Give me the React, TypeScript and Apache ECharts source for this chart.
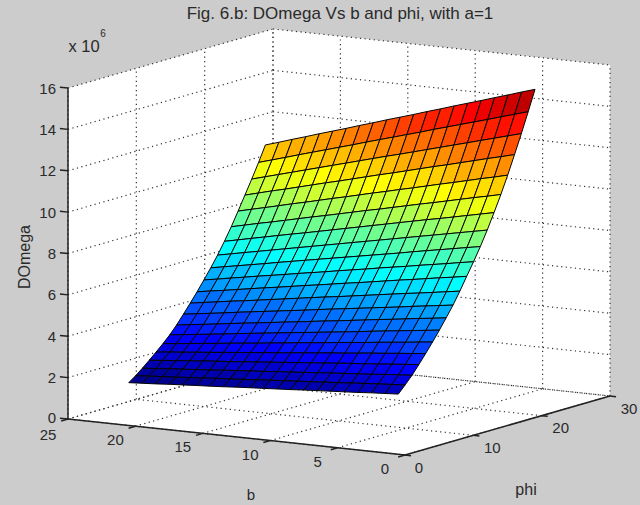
import React, { useEffect, useRef } from "react";
import * as echarts from "echarts";

const titleText = "Fig. 6.b: DOmega Vs b and phi, with a=1";
const bTicks = [0, 5, 10, 15, 20, 25];
const phiTicks = [0, 10, 20, 30];
const zTicks = [0, 2, 4, 6, 8, 10, 12, 14, 16];
const bValues = [1, 2, 3, 4, 5, 6, 7, 8, 9, 10, 11, 12, 13, 14, 15, 16, 17, 18, 19, 20, 21];
const phiValues = [1, 2, 3, 4, 5, 6, 7, 8, 9, 10, 11, 12, 13, 14, 15, 16, 17, 18, 19, 20, 21];
// DOmega in units of 1e6: one row per phi, one column per b
const zRows = [
  [2.78, 2.74, 2.70, 2.65, 2.61, 2.57, 2.53, 2.49, 2.44, 2.40, 2.36, 2.32, 2.28, 2.23, 2.19, 2.15, 2.11, 2.07, 2.02, 1.98, 1.94],
  [3.13, 3.08, 3.04, 2.99, 2.94, 2.89, 2.85, 2.80, 2.75, 2.70, 2.66, 2.61, 2.56, 2.51, 2.47, 2.42, 2.37, 2.32, 2.28, 2.23, 2.18],
  [3.50, 3.45, 3.40, 3.34, 3.29, 3.24, 3.19, 3.13, 3.08, 3.03, 2.98, 2.92, 2.87, 2.82, 2.77, 2.71, 2.66, 2.61, 2.56, 2.50, 2.45],
  [3.92, 3.86, 3.80, 3.74, 3.68, 3.63, 3.57, 3.51, 3.45, 3.39, 3.33, 3.27, 3.21, 3.15, 3.09, 3.04, 2.98, 2.92, 2.86, 2.80, 2.74],
  [4.36, 4.29, 4.23, 4.16, 4.10, 4.03, 3.96, 3.90, 3.83, 3.77, 3.70, 3.63, 3.57, 3.50, 3.44, 3.37, 3.30, 3.24, 3.17, 3.11, 3.04],
  [4.82, 4.75, 4.67, 4.60, 4.53, 4.45, 4.38, 4.31, 4.23, 4.16, 4.09, 4.01, 3.94, 3.86, 3.79, 3.72, 3.64, 3.57, 3.50, 3.42, 3.35],
  [5.30, 5.22, 5.14, 5.06, 4.98, 4.90, 4.81, 4.73, 4.65, 4.57, 4.49, 4.41, 4.33, 4.25, 4.17, 4.09, 4.00, 3.92, 3.84, 3.76, 3.68],
  [5.80, 5.71, 5.63, 5.54, 5.45, 5.37, 5.28, 5.19, 5.10, 5.02, 4.93, 4.84, 4.76, 4.67, 4.58, 4.50, 4.41, 4.32, 4.23, 4.15, 4.06],
  [6.32, 6.23, 6.14, 6.05, 5.95, 5.86, 5.77, 5.68, 5.59, 5.50, 5.41, 5.31, 5.22, 5.13, 5.04, 4.95, 4.86, 4.76, 4.67, 4.58, 4.49],
  [6.90, 6.80, 6.70, 6.60, 6.51, 6.41, 6.31, 6.21, 6.11, 6.01, 5.92, 5.82, 5.72, 5.62, 5.52, 5.42, 5.32, 5.23, 5.13, 5.03, 4.93],
  [7.52, 7.41, 7.31, 7.20, 7.09, 6.99, 6.88, 6.77, 6.66, 6.56, 6.45, 6.34, 6.24, 6.13, 6.02, 5.92, 5.81, 5.70, 5.59, 5.49, 5.38],
  [8.13, 8.02, 7.90, 7.79, 7.68, 7.56, 7.45, 7.34, 7.22, 7.11, 7.00, 6.88, 6.77, 6.66, 6.54, 6.43, 6.32, 6.20, 6.09, 5.97, 5.86],
  [8.77, 8.65, 8.53, 8.41, 8.29, 8.17, 8.04, 7.92, 7.80, 7.68, 7.56, 7.44, 7.32, 7.20, 7.08, 6.96, 6.83, 6.71, 6.59, 6.47, 6.35],
  [9.47, 9.34, 9.21, 9.08, 8.95, 8.82, 8.69, 8.56, 8.43, 8.30, 8.17, 8.04, 7.91, 7.78, 7.65, 7.52, 7.39, 7.26, 7.13, 7.00, 6.87],
  [10.22, 10.08, 9.94, 9.80, 9.66, 9.53, 9.39, 9.25, 9.11, 8.97, 8.83, 8.69, 8.55, 8.41, 8.27, 8.14, 8.00, 7.86, 7.72, 7.58, 7.44],
  [11.00, 10.85, 10.71, 10.56, 10.41, 10.26, 10.12, 9.97, 9.82, 9.67, 9.53, 9.38, 9.23, 9.08, 8.94, 8.79, 8.64, 8.49, 8.35, 8.20, 8.05],
  [11.84, 11.68, 11.53, 11.37, 11.21, 11.06, 10.90, 10.74, 10.59, 10.43, 10.28, 10.12, 9.96, 9.81, 9.65, 9.49, 9.34, 9.18, 9.02, 8.87, 8.71],
  [12.74, 12.57, 12.41, 12.24, 12.07, 11.90, 11.74, 11.57, 11.40, 11.23, 11.07, 10.90, 10.73, 10.56, 10.40, 10.23, 10.06, 9.89, 9.73, 9.56, 9.39],
  [13.66, 13.48, 13.30, 13.12, 12.94, 12.76, 12.58, 12.40, 12.22, 12.04, 11.87, 11.69, 11.51, 11.33, 11.15, 10.97, 10.79, 10.61, 10.43, 10.25, 10.07],
  [14.62, 14.43, 14.24, 14.04, 13.85, 13.66, 13.47, 13.28, 13.08, 12.89, 12.70, 12.51, 12.32, 12.12, 11.93, 11.74, 11.55, 11.36, 11.16, 10.97, 10.78],
  [15.61, 15.41, 15.20, 15.00, 14.79, 14.59, 14.39, 14.18, 13.98, 13.77, 13.57, 13.37, 13.16, 12.96, 12.75, 12.55, 12.35, 12.14, 11.94, 11.73, 11.53],
];

const W = 640;
const H = 505;
const bMax = bTicks[bTicks.length - 1];
const phiMax = phiTicks[phiTicks.length - 1];
const zMax = zTicks[zTicks.length - 1];
const FONT = "Liberation Sans, Arial, sans-serif";
const INK = "#2a2a2a";

// Orthographic view of the 3-D box on the 2-D value axes
const view = { x0: 405, y0: 455, bx: -337, by: -36, px: 205, py: -59, zy: -331 };
function project(b: number, phi: number, z: number): number[] {
  return [
    view.x0 + (b / bMax) * view.bx + (phi / phiMax) * view.px,
    view.y0 + (b / bMax) * view.by + (phi / phiMax) * view.py + (z / zMax) * view.zy,
  ];
}

function jet(t: number): string {
  // MATLAB jet(64)
  const k = Math.min(63, Math.floor(t * 64));
  const v = (k + 1) / 64;
  const ramp = (c: number) => Math.max(0, Math.min(1, 1.5 - Math.abs(4 * v - c)));
  const ch = (c: number) => Math.round(ramp(c) * 255);
  return `rgb(${ch(3)},${ch(2)},${ch(1)})`;
}

const allZ = zRows.flat();
const zLow = Math.min(...allZ);
const zHigh = Math.max(...allZ);

// back to front so nearer cells overdraw farther ones
const cellData: number[][] = [];
for (let p = phiValues.length - 2; p >= 0; p--) {
  for (let q = bValues.length - 2; q >= 0; q--) cellData.push([p, q]);
}

export default function App() {
  const ref = useRef<HTMLDivElement>(null);
  useEffect(() => {
    document.body.style.margin = "0";
    document.body.style.background = "#cccccc";
    const chart = echarts.init(ref.current!, null, { renderer: "svg" });

    const renderBox = (_params: any, api: any) => {
      const at = (b: number, phi: number, z: number) => api.coord(project(b, phi, z));
      const children: any[] = [];
      const wall = (pts: number[][]) =>
        children.push({ type: "polygon", shape: { points: pts }, style: { fill: "#ffffff", stroke: "none" } });
      wall([at(bMax, 0, zMax), at(bMax, phiMax, zMax), at(bMax, phiMax, 0), at(bMax, 0, 0)]);
      wall([at(bMax, phiMax, zMax), at(0, phiMax, zMax), at(0, phiMax, 0), at(bMax, phiMax, 0)]);
      wall([at(bMax, 0, 0), at(bMax, phiMax, 0), at(0, phiMax, 0), at(0, 0, 0)]);

      const seg = (a: number[], c: number[], dotted: boolean, width = 1) =>
        children.push({
          type: "line",
          shape: { x1: a[0], y1: a[1], x2: c[0], y2: c[1] },
          style: dotted
            ? { stroke: "#333333", lineWidth: 1.2, lineDash: [1.2, 3.4] }
            : { stroke: "#222222", lineWidth: width },
        });

      phiTicks.forEach((p) => {
        seg(at(0, p, 0), at(bMax, p, 0), true);
        seg(at(bMax, p, 0), at(bMax, p, zMax), true);
      });
      bTicks.forEach((b) => {
        seg(at(b, 0, 0), at(b, phiMax, 0), true);
        seg(at(b, phiMax, 0), at(b, phiMax, zMax), true);
      });
      zTicks.forEach((z) => {
        seg(at(bMax, 0, z), at(bMax, phiMax, z), true);
        seg(at(bMax, phiMax, z), at(0, phiMax, z), true);
      });

      seg(at(bMax, 0, 0), at(bMax, 0, zMax), false, 1.5);
      seg(at(bMax, 0, 0), at(0, 0, 0), false, 1.5);
      seg(at(0, 0, 0), at(0, phiMax, 0), false, 1.5);

      const label = (text: string, x: number, y: number, size = 15, extra: any = {}) =>
        children.push({
          type: "text",
          x,
          y,
          ...extra,
          style: {
            text,
            font: `${size}px ${FONT}`,
            fill: INK,
            textAlign: "center",
            textVerticalAlign: "middle",
            ...(extra.style || {}),
          },
        });

      bTicks.forEach((b) => {
        seg(at(b, 0, 0), at(b, -1, 0), false, 1.5);
        const [x, y] = at(b, 0, 0);
        label(String(b), x - 20, y + (b === bMax ? 15.5 : 13.5));
      });
      phiTicks.forEach((p) => {
        seg(at(0, p, 0), at(-0.45, p, 0), false, 1.5);
        const [x, y] = at(0, p, 0);
        label(String(p), x + (p === 0 ? 14 : 19), y + 12);
      });
      zTicks.forEach((z) => {
        seg(at(bMax, 0, z), at(bMax + 0.6, 0, z), false, 1.5);
        const [x, y] = at(bMax, 0, z);
        label(String(z), 0, 0, 15, {
          x: x - 12,
          y: y - (z === 0 ? 2 : 0),
          style: { textAlign: "right" },
        });
      });

      label("DOmega", 0, 0, 16, { x: 24, y: 257, rotation: Math.PI / 2 });
      label("b", 251, 494, 15);
      label("phi", 526, 489, 16);
      label("x 10", 84, 46, 16.5);
      label("6", 103, 33, 10);
      return { type: "group", children };
    };

    const renderCell = (_params: any, api: any) => {
      const p = api.value(0);
      const q = api.value(1);
      const corner = (pi: number, qi: number) =>
        api.coord(project(bValues[qi], phiValues[pi], zRows[pi][qi]));
      return {
        type: "polygon",
        shape: { points: [corner(p, q), corner(p, q + 1), corner(p + 1, q + 1), corner(p + 1, q)] },
        style: {
          fill: jet((zRows[p][q] - zLow) / (zHigh - zLow)),
          stroke: "#050505",
          lineWidth: 1,
          lineJoin: "round",
        },
      };
    };

    chart.setOption({
      animation: false,
      backgroundColor: "#cccccc",
      title: {
        text: titleText,
        left: 335,
        top: 0,
        textAlign: "center",
        textStyle: { fontFamily: FONT, fontSize: 17, fontWeight: "normal", color: INK },
      },
      grid: { left: 0, top: 0, width: W, height: H },
      xAxis: { type: "value", min: 0, max: W, show: false },
      yAxis: { type: "value", min: 0, max: H, inverse: true, show: false },
      series: [
        {
          type: "custom",
          coordinateSystem: "cartesian2d",
          silent: true,
          clip: false,
          data: [[0, 0]],
          renderItem: renderBox,
          z: 1,
        },
        {
          type: "custom",
          coordinateSystem: "cartesian2d",
          silent: true,
          clip: false,
          data: cellData,
          renderItem: renderCell,
          z: 2,
        },
      ],
    });
    return () => chart.dispose();
  }, []);
  return <div ref={ref} style={{ width: W, height: H }} />;
}
